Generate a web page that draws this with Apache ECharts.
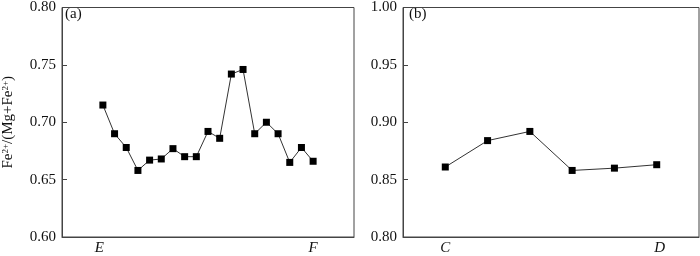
<!DOCTYPE html>
<html>
<head>
<meta charset="utf-8">
<script src="https://cdn.jsdelivr.net/npm/echarts@6/dist/echarts.min.js"></script>
<style>
html,body{margin:0;padding:0;background:#fff;}
#c{width:700px;height:256px;}
</style>
</head>
<body>
<div id="c"></div>
<script>
// Panel (a): profile E -> F
const valuesA = [0.715, 0.690, 0.678, 0.658, 0.667, 0.668, 0.677, 0.670, 0.670, 0.692,
                 0.686, 0.742, 0.746, 0.690, 0.700, 0.690, 0.665, 0.678, 0.666];
const endLabelsA = ['E', 'F'];
const endPosA = [0.7, 19];
const yTicksA = [0.60, 0.65, 0.70, 0.75, 0.80];

// Panel (b): profile C -> D
const valuesB = [0.861, 0.884, 0.892, 0.858, 0.860, 0.863];
const endLabelsB = ['C', 'D'];
const endPosB = [1, 6.07];
const yTicksB = [0.80, 0.85, 0.90, 0.95, 1.00];

const panelLabels = ['(a)', '(b)'];

const FONT = '"Liberation Serif"';
const AX = '#444';
const TXT = '#111';

function xAxisFor(gridIndex, min, max, pos, labels) {
  return {
    type: 'value', gridIndex, min, max,
    axisLine: {show: true, onZero: false, lineStyle: {color: AX, width: 1}},
    axisTick: {show: false},
    splitLine: {show: false},
    axisLabel: {
      customValues: pos,
      formatter: v => labels[pos.indexOf(v)] !== undefined ? labels[pos.indexOf(v)] : '',
      fontFamily: FONT, fontSize: 15, fontStyle: 'italic', color: TXT, margin: 4
    }
  };
}
function yAxisFor(gridIndex, ticks, extra) {
  return Object.assign({
    type: 'value', gridIndex,
    min: ticks[0], max: ticks[ticks.length - 1], interval: 0.05,
    axisLine: {show: true, onZero: false, lineStyle: {color: AX, width: 1}},
    axisTick: {show: true, inside: true, length: 5, lineStyle: {color: AX}},
    splitLine: {show: false},
    axisLabel: {
      formatter: v => v.toFixed(2),
      fontFamily: FONT, fontSize: 15, color: TXT, margin: 6
    }
  }, extra || {});
}

const chart = echarts.init(document.getElementById('c'), null, {renderer: 'canvas'});
chart.setOption({
  animation: false,
  backgroundColor: '#fff',
  grid: [
    {left: 59, top: 2, width: 295, height: 236.5, show: true, borderColor: AX, borderWidth: 1, backgroundColor: 'transparent'},
    {left: 403, top: 2, width: 296, height: 236.5, show: true, borderColor: AX, borderWidth: 1, backgroundColor: 'transparent'}
  ],
  xAxis: [
    xAxisFor(0, -2.5, 22.5, endPosA, endLabelsA),
    xAxisFor(1, 0, 7, endPosB, endLabelsB)
  ],
  yAxis: [
    yAxisFor(0, yTicksA, {
      name: '{a|Fe}{s|2+}{a|/(Mg+Fe}{s|2+}{a|)}',
      nameLocation: 'middle', nameGap: 46, nameRotate: 90,
      nameTextStyle: {
        rich: {
          a: {fontFamily: FONT, fontSize: 15, color: TXT},
          s: {fontFamily: FONT, fontSize: 9, color: TXT, verticalAlign: 'top', padding: [0, 0, 6, 0]}
        }
      }
    }),
    yAxisFor(1, yTicksB)
  ],
  graphic: [
    {type: 'text', left: 65, top: 7, style: {text: panelLabels[0], font: '15px "Liberation Serif"', fill: TXT}},
    {type: 'text', left: 409, top: 7, style: {text: panelLabels[1], font: '15px "Liberation Serif"', fill: TXT}}
  ],
  series: [
    {
      type: 'line', xAxisIndex: 0, yAxisIndex: 0,
      data: valuesA.map((v, i) => [i + 1, v]),
      symbol: 'rect', symbolSize: 7,
      lineStyle: {color: '#333', width: 1},
      itemStyle: {color: '#000'}
    },
    {
      type: 'line', xAxisIndex: 1, yAxisIndex: 1,
      data: valuesB.map((v, i) => [i + 1, v]),
      symbol: 'rect', symbolSize: 7,
      lineStyle: {color: '#333', width: 1},
      itemStyle: {color: '#000'}
    }
  ]
});
</script>
</body>
</html>
